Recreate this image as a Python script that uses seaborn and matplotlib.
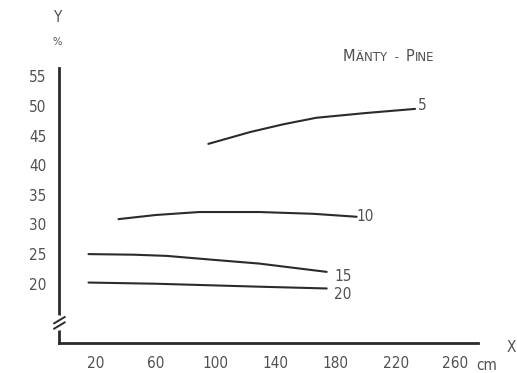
import matplotlib
matplotlib.use("Agg")
import matplotlib.pyplot as plt
import seaborn as sns
import pandas as pd

# Moisture content (%) against distance (cm), one curve per series
x_5 = [95, 123, 145, 167, 200, 233]
y_5 = [43.6, 45.6, 46.9, 48.0, 48.8, 49.5]

x_10 = [35, 60, 89, 129, 165, 194]
y_10 = [30.9, 31.6, 32.1, 32.1, 31.8, 31.3]

x_15 = [15, 45, 67, 100, 129, 174]
y_15 = [25.0, 24.9, 24.7, 24.0, 23.4, 22.0]

x_20 = [15, 60, 129, 174]
y_20 = [20.2, 20.0, 19.5, 19.2]

series_names = ["5", "10", "15", "20"]
x_ticks = [20, 60, 100, 140, 180, 220, 260]
y_ticks = [20, 25, 30, 35, 40, 45, 50, 55]

frames = []
for name, xs, ys in zip(series_names, [x_5, x_10, x_15, x_20], [y_5, y_10, y_15, y_20]):
    frames.append(pd.DataFrame({"x": xs, "y": ys, "series": name}))
df = pd.concat(frames, ignore_index=True)

sns.set_theme(style="white")
plt.rcParams["font.family"] = ["DejaVu Sans"]
plt.rcParams["font.stretch"] = "condensed"

ink = "#2b2b2b"
txt = "#505050"
fs = 11

W, H = 517, 373
fig = plt.figure(figsize=(W / 100, H / 100), dpi=100)
ax = fig.add_axes([59 / W, 1 - 343 / H, (478 - 59) / W, (343 - 68) / H])

sns.lineplot(data=df, x="x", y="y", units="series", estimator=None,
             color=ink, lw=1.5, ax=ax, legend=False, sort=False)

ax.set_xlim(-4.7, 275)
ax.set_ylim(10, 56.4)
ax.set_xlabel("")
ax.set_ylabel("")

for s in ["top", "right"]:
    ax.spines[s].set_visible(False)
for s in ["left", "bottom"]:
    ax.spines[s].set_color(ink)
    ax.spines[s].set_linewidth(2.0)

ax.set_xticks(x_ticks)
ax.set_xticklabels([str(v) for v in x_ticks])
ax.set_yticks(y_ticks)
ax.set_yticklabels([str(v) for v in y_ticks])
ax.tick_params(axis="x", direction="out", length=4, width=1.5, color=ink,
               labelsize=fs, labelcolor=txt, pad=5)
ax.tick_params(axis="y", direction="out", length=6, width=1.5, color=ink,
               labelsize=fs, labelcolor=txt, pad=3)

# axis break on the y axis
ybk = 13.4
trans = ax.get_yaxis_transform()
ax.plot([0, 0], [ybk - 0.9, ybk + 0.9], transform=trans, color="white",
        lw=4, clip_on=False, zorder=5)
for dy in (-0.45, 0.45):
    ax.plot([-0.012, 0.014], [ybk + dy - 0.55, ybk + dy + 0.55], transform=trans,
            color=ink, lw=1.4, clip_on=False, zorder=6)

# series labels at the curve ends
label_pos = {"5": (235, 50.0), "10": (194, 31.3), "15": (179, 21.3), "20": (179, 18.1)}
for name in series_names:
    lx, ly = label_pos[name]
    ax.text(lx, ly, name, fontsize=fs, color=txt, ha="left", va="center")

# axis captions
fig.text(57 / W, 1 - 18 / H, "Y", fontsize=fs, color=txt, ha="center", va="center")
fig.text(57 / W, 1 - 42 / H, "%", fontsize=8, color=txt, ha="center", va="center")
fig.text(511 / W, 1 - 347 / H, "X", fontsize=fs, color=txt, ha="center", va="center")
fig.text(487 / W, 1 - 365 / H, "cm", fontsize=fs, color=txt, ha="center", va="center")

# small-caps style title
big, small = 10.5, 8.5
t1 = fig.text(343 / W, 1 - 61 / H, "M", fontsize=big, color=txt,
              ha="left", va="baseline", fontstretch="normal")
t2 = ax.annotate("ÄNTY  -  ", xy=(1, 0), xycoords=t1, fontsize=small, color=txt,
                 ha="left", va="bottom", fontstretch="normal")
t3 = ax.annotate("P", xy=(1, 0), xycoords=t2, fontsize=big, color=txt,
                 ha="left", va="bottom", fontstretch="normal")
ax.annotate("INE", xy=(1, 0), xycoords=t3, fontsize=small, color=txt,
            ha="left", va="bottom", fontstretch="normal")

fig.savefig("out.png", dpi=100)
